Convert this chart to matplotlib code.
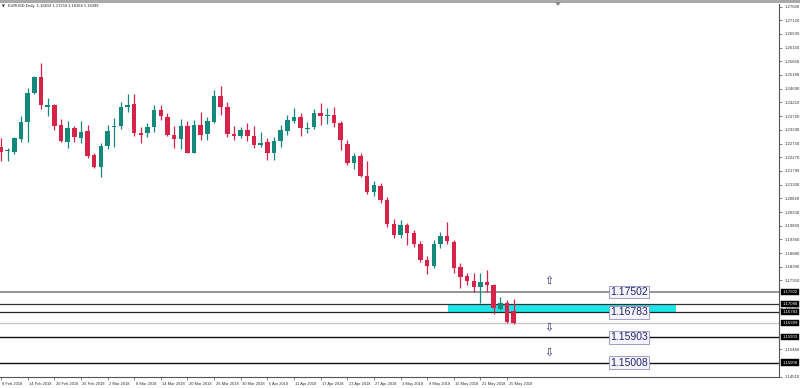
import matplotlib
matplotlib.use('Agg')
import matplotlib.pyplot as plt
from matplotlib.patches import Rectangle, Polygon
from matplotlib.transforms import blended_transform_factory, ScaledTranslation
import numpy as np

plt.rcParams['font.family'] = ['Liberation Sans', 'DejaVu Sans']

symbol_title = "EURUSD,Daily  1.16819 1.17259 1.16364 1.16399"

date_labels = ['8 Feb 2018', '14 Feb 2018', '20 Feb 2018', '26 Feb 2018', '2 Mar 2018',
               '8 Mar 2018', '14 Mar 2018', '20 Mar 2018', '26 Mar 2018', '30 Mar 2018',
               '5 Apr 2018', '11 Apr 2018', '17 Apr 2018', '23 Apr 2018', '27 Apr 2018',
               '3 May 2018', '9 May 2018', '15 May 2018', '21 May 2018', '25 May 2018']

opens = [1.22641, 1.22479, 1.22443, 1.22903, 1.23526, 1.24530, 1.25096, 1.24056, 1.24116, 1.23398,
         1.22818, 1.23313, 1.22938, 1.23197, 1.22348, 1.21934, 1.22666, 1.23349, 1.23373, 1.24056,
         1.24141, 1.23136, 1.23115, 1.23349, 1.23939, 1.23702, 1.23055, 1.22903, 1.23373, 1.22429,
         1.23409, 1.23080, 1.23526, 1.24445, 1.24035, 1.23090, 1.23020, 1.23232, 1.23030, 1.22712,
         1.22818, 1.22408, 1.22854, 1.23197, 1.23550, 1.23702, 1.23267, 1.23349, 1.23823, 1.23717,
         1.23762, 1.23469, 1.22737, 1.22075, 1.22312, 1.21605, 1.21039, 1.21251, 1.20756, 1.19907,
         1.19518, 1.19872, 1.19589, 1.19200, 1.18634, 1.18422, 1.19200, 1.19483, 1.19271, 1.18376,
         1.18068, 1.17902, 1.17689, 1.17866, 1.17750, 1.16890, 1.17124, 1.16819]
highs = [1.22938, 1.22585, 1.22974, 1.23738, 1.24707, 1.25142, 1.25591, 1.24374, 1.24152, 1.23610,
         1.23550, 1.23373, 1.23561, 1.23409, 1.22429, 1.22783, 1.23409, 1.23646, 1.24233, 1.24505,
         1.24505, 1.23327, 1.23469, 1.24106, 1.24127, 1.23844, 1.23373, 1.23621, 1.23561, 1.23586,
         1.23879, 1.23702, 1.24647, 1.24788, 1.24233, 1.23373, 1.23327, 1.23469, 1.23373, 1.23172,
         1.22938, 1.22995, 1.23409, 1.23762, 1.24000, 1.23823, 1.23526, 1.23964, 1.24198, 1.24000,
         1.24056, 1.23561, 1.22878, 1.22408, 1.22408, 1.22135, 1.21428, 1.21357, 1.20862, 1.20084,
         1.20049, 1.19943, 1.19695, 1.19306, 1.18775, 1.19341, 1.19624, 1.19978, 1.19341, 1.18538,
         1.18163, 1.18185, 1.18163, 1.18280, 1.17785, 1.17315, 1.17219, 1.17259]
lows = [1.22135, 1.22146, 1.22373, 1.22818, 1.22818, 1.24505, 1.23964, 1.23727, 1.23232, 1.22818,
        1.22606, 1.22818, 1.22783, 1.22231, 1.21899, 1.21559, 1.22560, 1.22641, 1.23278, 1.23879,
        1.23020, 1.22762, 1.22974, 1.23172, 1.23586, 1.23020, 1.22606, 1.22571, 1.22408, 1.22408,
        1.22878, 1.22878, 1.23469, 1.23762, 1.22995, 1.22878, 1.22938, 1.22854, 1.22585, 1.22620,
        1.22171, 1.22171, 1.22620, 1.23055, 1.23469, 1.23020, 1.23115, 1.23257, 1.23409, 1.23444,
        1.23327, 1.22525, 1.21994, 1.21842, 1.21580, 1.20968, 1.20898, 1.20650, 1.19801, 1.19412,
        1.19412, 1.19164, 1.19094, 1.18563, 1.18139, 1.18351, 1.19058, 1.19200, 1.18174, 1.17633,
        1.17750, 1.17491, 1.17124, 1.17513, 1.16724, 1.16865, 1.16395, 1.16364]
closes = [1.22464, 1.22525, 1.22938, 1.23526, 1.24530, 1.25096, 1.24116, 1.24106, 1.23373, 1.22854,
          1.23313, 1.22974, 1.23172, 1.22312, 1.21913, 1.22666, 1.23207, 1.23373, 1.24056, 1.24127,
          1.23115, 1.23055, 1.23349, 1.23939, 1.23727, 1.23055, 1.22903, 1.23363, 1.22429, 1.23398,
          1.23055, 1.23550, 1.24445, 1.24035, 1.23090, 1.23020, 1.23232, 1.23030, 1.22701, 1.22783,
          1.22408, 1.22843, 1.23232, 1.23586, 1.23681, 1.23292, 1.23313, 1.23823, 1.23727, 1.23762,
          1.23469, 1.22878, 1.22075, 1.22312, 1.21605, 1.21039, 1.21287, 1.20756, 1.19907, 1.19518,
          1.19872, 1.19589, 1.19200, 1.18634, 1.18422, 1.19200, 1.19483, 1.19306, 1.18351, 1.18043,
          1.17902, 1.17668, 1.17866, 1.17750, 1.16925, 1.17124, 1.16430, 1.16399]

# visible price-scale labels (those hidden behind the level boxes are left out)
y_tick_values = [1.27600, 1.27120, 1.26630, 1.26150, 1.25660, 1.25180, 1.24690, 1.24210,
                 1.23720, 1.23240, 1.22750, 1.22270, 1.21790, 1.21300, 1.20820, 1.20330,
                 1.19850, 1.19360, 1.18880, 1.18390, 1.17910, 1.16940, 1.15480, 1.14510]

level_values = [1.17502, 1.16783, 1.15903, 1.15008]
zone_top = 1.17080
zone_bottom = 1.16783
bid_price = 1.16399
up_arrow_price = 1.17891
down_arrow_prices = [1.16229, 1.15344]

fig = plt.figure(figsize=(8, 3.88), dpi=100)
ax = fig.add_axes([0, 0.02835, 0.97375, 0.96134])

n = len(opens)
x = np.arange(n)
o = np.array(opens); c = np.array(closes); h = np.array(highs); l = np.array(lows)
RED = '#d5234a'
GREEN = '#13897b'
cols = [GREEN if cc >= oo else RED for oo, cc in zip(o, c)]
ax.vlines(x, l, h, colors=cols, linewidth=0.9, zorder=4)
bottoms = np.minimum(o, c)
heights = np.maximum(np.abs(c - o), 0.00035)
ax.bar(x, heights, bottom=bottoms, width=0.68, color=cols, linewidth=0, zorder=5)

# zone
ax.add_patch(Rectangle((67.2, zone_bottom), 34.15, zone_top - zone_bottom,
                       facecolor='#1de6ea', edgecolor='none', zorder=1))

# horizontal levels
ax.axhline(1.17502, color='#8a8a8a', lw=1.3, zorder=2)
ax.axhline(zone_top, color='#333333', lw=0.9, zorder=2)
ax.axhline(zone_bottom, color='#222222', lw=0.9, zorder=2)
ax.axhline(1.15903, color='#111111', lw=1.0, zorder=2)
ax.axhline(1.15008, color='#111111', lw=1.0, zorder=2)
ax.axhline(bid_price, color='#c8c8c8', lw=1.0, zorder=2)

for v in level_values:
    ax.text(91.5, v, f"{v:.5f}", fontsize=7.5, color='#23236e', va='center', ha='left',
            bbox=dict(boxstyle='square,pad=0.14', fc='#f4f4fb', ec='#8f8fc0', lw=0.6), zorder=7)

ax.text(82.3, up_arrow_price, '\u21e7', fontsize=8, color='#2b2b80', ha='center', va='center',
        family='DejaVu Sans', zorder=7)
for p in down_arrow_prices:
    ax.text(82.3, p, '\u21e9', fontsize=8, color='#2b2b80', ha='center', va='center',
            family='DejaVu Sans', zorder=7)

ax.set_xlim(-0.15, 116.84)
ax.set_ylim(1.14496, 1.27689)

# axes styling
for s in ['top', 'left']:
    ax.spines[s].set_visible(False)
for s in ['right', 'bottom']:
    ax.spines[s].set_color('#555555')
    ax.spines[s].set_linewidth(0.8)

ax.yaxis.tick_right()
ax.set_yticks(y_tick_values)
ax.set_yticklabels([f"{v:.5f}" for v in y_tick_values])
ax.tick_params(axis='y', direction='out', length=2.5, width=0.5, pad=1.5, labelsize=3.1,
               labelcolor='#333333', color='#555555')

ax.set_xticks(np.arange(0, 4 * len(date_labels), 4))
ax.set_xticklabels(date_labels)
ax.tick_params(axis='x', direction='out', length=2.5, width=0.5, pad=1.2, labelsize=2.9,
               labelcolor='#333333', color='#555555')
off = ScaledTranslation(1.5 / 100, 0, fig.dpi_scale_trans)
for lbl in ax.get_xticklabels():
    lbl.set_horizontalalignment('left')
    lbl.set_transform(lbl.get_transform() + off)

# boxed prices on the axis
trans = blended_transform_factory(ax.transAxes, ax.transData)
for v in [1.17502, zone_top, 1.16783, bid_price, 1.15903, 1.15008]:
    ax.text(1.0045, v, f"{v:.5f}", transform=trans, fontsize=3.1, color='white',
            va='center', ha='left', clip_on=False, zorder=10,
            bbox=dict(boxstyle='square,pad=0.25', fc='black', ec='black', lw=0.3))

# window frame and header
fig.patches.append(Rectangle((0, 1 - 3 / 388), 1, 3 / 388, transform=fig.transFigure,
                             facecolor='#a9a9a9', edgecolor='none'))
fig.patches.append(Polygon([[555 / 800, 1 - 2 / 388], [561 / 800, 1 - 2 / 388], [558 / 800, 1 - 6 / 388]],
                           closed=True, transform=fig.transFigure, facecolor='#8a8a8a', edgecolor='none'))
fig.text(3 / 800, 1 - 6.5 / 388, '\u25bc', fontsize=2.6, va='center', ha='center', color='#222222',
         family='DejaVu Sans')
fig.text(8 / 800, 1 - 6.5 / 388, symbol_title, fontsize=2.9, va='center', ha='left', color='#222222')

fig.savefig('out.png', dpi=100)
